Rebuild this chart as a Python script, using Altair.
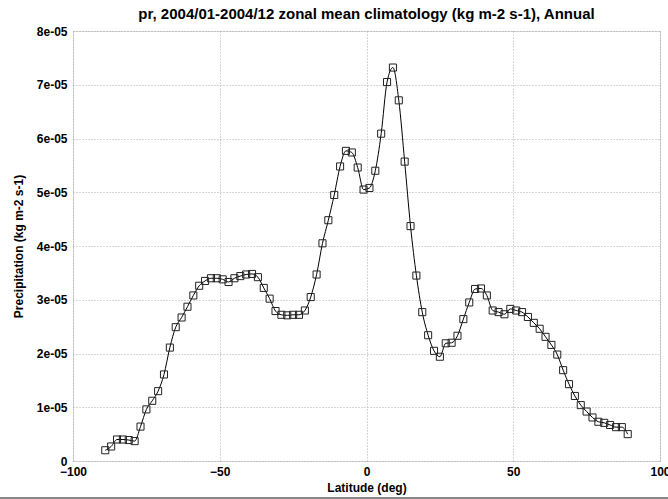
import altair as alt
import pandas as pd

lat = list(range(-89, 90, 2))
pr_e5 = [
    0.20, 0.27, 0.40, 0.40, 0.39, 0.37, 0.64, 0.96, 1.12, 1.30,
    1.61, 2.11, 2.49, 2.67, 2.87, 3.08, 3.26, 3.35, 3.40, 3.40,
    3.38, 3.33, 3.40, 3.44, 3.47, 3.48, 3.42, 3.22, 3.02, 2.79,
    2.72, 2.71, 2.72, 2.72, 2.80, 3.05, 3.47, 4.05, 4.48, 4.95,
    5.48, 5.77, 5.74, 5.46, 5.05, 5.08, 5.40, 6.09, 7.05, 7.32,
    6.71, 5.57, 4.37, 3.45, 2.77, 2.34, 2.05, 1.94, 2.19, 2.20,
    2.33, 2.64, 2.95, 3.20, 3.21, 3.08, 2.80, 2.77, 2.73, 2.83,
    2.80, 2.77, 2.68, 2.57, 2.46, 2.31, 2.16, 1.98, 1.69, 1.43,
    1.21, 1.04, 0.92, 0.81, 0.73, 0.71, 0.67, 0.63, 0.63, 0.50,
]
x_ticks = [-100, -50, 0, 50, 100]
y_ticks_e5 = [0, 1, 2, 3, 4, 5, 6, 7, 8]

df = pd.DataFrame({"lat": lat, "pr": [v * 1e-5 for v in pr_e5]})

FONT = "Liberation Sans"

x_enc = alt.X(
    "lat:Q",
    scale=alt.Scale(domain=[-100, 100], nice=False, zero=False),
    axis=alt.Axis(
        values=x_ticks, title="Latitude (deg)", labelFlush=False,
        grid=True, gridDash=[1, 2], gridColor="#9a9a9a", gridWidth=0.8,
        domain=False, ticks=False, labelPadding=5, titlePadding=5,
        labelFont=FONT, labelFontSize=12, labelFontWeight=700, labelColor="black",
        titleFont=FONT, titleFontSize=12, titleFontWeight=700, titleColor="black",
    ),
)
y_enc = alt.Y(
    "pr:Q",
    scale=alt.Scale(domain=[0, 8e-5], nice=False),
    axis=alt.Axis(
        values=[v * 1e-5 for v in y_ticks_e5], title="Precipitation (kg m-2 s-1)",
        labelExpr="datum.value == 0 ? '0' : round(datum.value * 1e5) + 'e-05'",
        grid=True, gridDash=[1, 2], gridColor="#9a9a9a", gridWidth=0.8,
        domain=False, ticks=False, labelPadding=6, titlePadding=11,
        labelFont=FONT, labelFontSize=12, labelFontWeight=700, labelColor="black",
        titleFont=FONT, titleFontSize=12, titleFontWeight=700, titleColor="black",
    ),
)

line = alt.Chart(df).mark_line(
    interpolate="monotone", color="black", strokeWidth=1
).encode(x=x_enc, y=y_enc)

pts = alt.Chart(df).mark_point(
    shape="square", filled=False, color="#222222", size=50, strokeWidth=1, opacity=1
).encode(x="lat:Q", y="pr:Q")

bottom_line = alt.Chart(df).mark_rule(color="#888888", strokeWidth=1.5).encode(
    x=alt.value(-73), x2=alt.value(595), y=alt.value(467)
)

chart = (
    alt.layer(line, pts, bottom_line)
    .properties(
        width=587,
        height=430,
        title=alt.TitleParams(
            "pr, 2004/01-2004/12 zonal mean climatology (kg m-2 s-1), Annual",
            font=FONT, fontSize=15, fontWeight="bold", anchor="middle", offset=3,
            color="black",
        ),
        autosize=alt.AutoSizeParams(type="none"),
        padding={"left": 73, "top": 31, "right": 8, "bottom": 38},
    )
    .configure_view(stroke="#9a9a9a", strokeWidth=1.2)
    .configure(background="white")
)

chart.save("out.html", embed_options={"renderer": "svg", "actions": False})
